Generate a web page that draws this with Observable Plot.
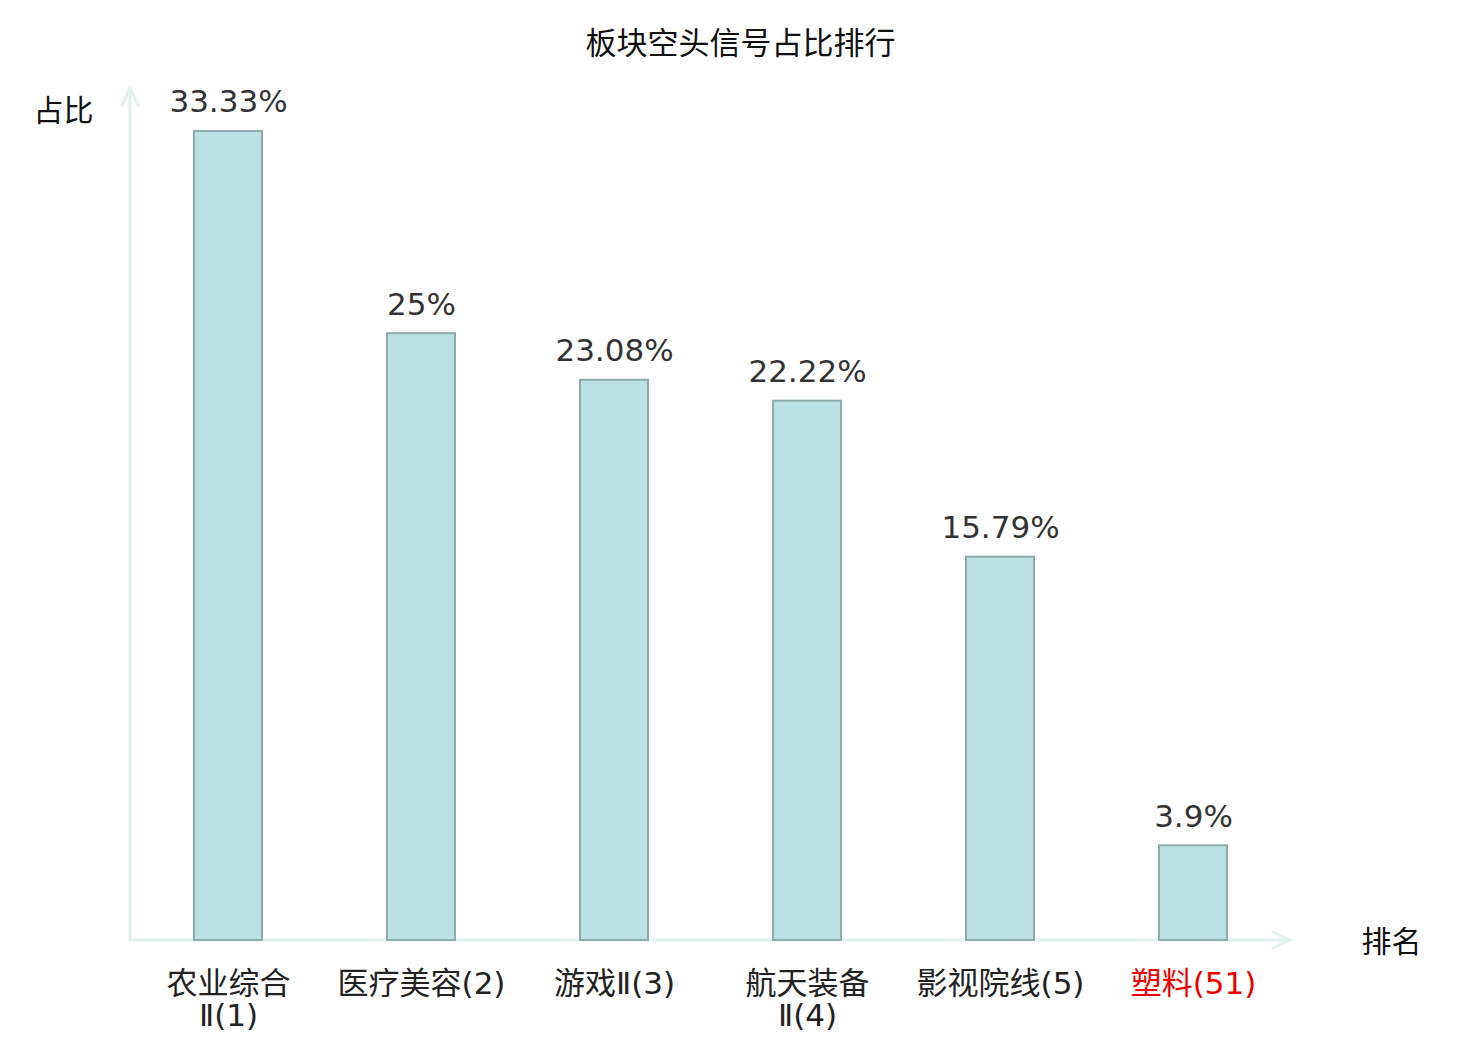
<!DOCTYPE html>
<html>
<head>
<meta charset="utf-8">
<script src="https://cdn.jsdelivr.net/npm/d3@7"></script>
<script src="https://cdn.jsdelivr.net/npm/@observablehq/plot@0.6"></script>
<style>
  html, body { margin: 0; padding: 0; background: #fff; }
  #chart svg { display: block; }
</style>
</head>
<body>
<div id="chart"></div>
<script>
const title = "板块空头信号占比排行";
const yAxisTitle = "占比";
const xAxisTitle = "排名";
const categories = ["农业综合Ⅱ", "医疗美容", "游戏Ⅱ", "航天装备Ⅱ", "影视院线", "塑料"];
const ranks = [1, 2, 3, 4, 5, 51];
const values = [33.33, 25, 23.08, 22.22, 15.79, 3.9];
const valueLabels = ["33.33%", "25%", "23.08%", "22.22%", "15.79%", "3.9%"];
const tickLabels = ["农业综合\nⅡ(1)", "医疗美容(2)", "游戏Ⅱ(3)", "航天装备\nⅡ(4)", "影视院线(5)", "塑料(51)"];
const highlighted = ["塑料"];
const axisTopValue = 35.1;

const data = categories.map((c, i) => ({
  name: c, rank: ranks[i], value: values[i],
  label: valueLabels[i], tick: tickLabels[i],
  hl: highlighted.includes(c)
}));

const FONT = "'DejaVu Sans', 'Noto Sans CJK SC', sans-serif";
const CJK = "'Noto Sans CJK SC', 'DejaVu Sans', sans-serif";

const chart = Plot.plot({
  width: 1480,
  height: 1040,
  marginLeft: 130,
  marginRight: 190,
  marginTop: 131,
  marginBottom: 100,
  style: { fontFamily: CJK, background: "#fff" },
  x: { type: "band", domain: categories, paddingInner: 0.65, paddingOuter: 0.325, axis: null },
  y: { domain: [0, 33.33], axis: null },
  marks: [
    Plot.barY(data, {
      x: "name", y: "value",
      fill: "#bce0e3", stroke: "#8eaaab", strokeWidth: 2
    }),
    Plot.text(data, {
      x: "name", y: "value", text: "label",
      dy: -29, fontSize: 31, fill: "#333", fontFamily: FONT
    }),
    Plot.text(data, {
      x: "name", text: "tick", frameAnchor: "bottom", lineAnchor: "top",
      dy: 30, fontSize: 31, lineHeight: 1.05,
      fill: d => d.hl ? "#ee0000" : "#222", fontFamily: FONT
    }),
    Plot.text([title], {
      text: d => d, frameAnchor: "top-left", dx: 740 - 130, dy: -100,
      fontSize: 31, fill: "#111", letterSpacing: 4, textAnchor: "middle"
    }),
    Plot.text([yAxisTitle], {
      text: d => d, frameAnchor: "top-left", dx: -67, dy: -32,
      fontSize: 30, fill: "#111", textAnchor: "middle"
    }),
    Plot.text([xAxisTitle], {
      text: d => d, frameAnchor: "bottom-right", dx: 101, dy: 11,
      fontSize: 30, fill: "#111", textAnchor: "middle"
    })
  ]
});

// axis lines with open arrowheads, positioned through the plot's scales
const xs = chart.scale("x");
const ys = chart.scale("y");
const x0 = xs.range[0], x1 = xs.range[1];
const y0 = ys.apply(0), yTop = ys.apply(axisTopValue);
const svg = d3.select(chart);
const g = svg.insert("g", ":first-child")
  .attr("fill", "none").attr("stroke", "#dff2ee").attr("stroke-width", 3)
  .attr("stroke-linecap", "round");
g.append("line").attr("x1", x0).attr("y1", y0).attr("x2", x0).attr("y2", yTop);
g.append("polyline").attr("points", `${x0 - 8},${yTop + 17} ${x0},${yTop} ${x0 + 8},${yTop + 17}`);
g.append("line").attr("x1", x0).attr("y1", y0).attr("x2", x1).attr("y2", y0);
g.append("polyline").attr("points", `${x1 - 17},${y0 - 8} ${x1},${y0} ${x1 - 17},${y0 + 8}`);
svg.node().insertBefore(g.node(), svg.node().querySelector("g[aria-label='bar']"));

document.getElementById("chart").appendChild(chart);
</script>
</body>
</html>
